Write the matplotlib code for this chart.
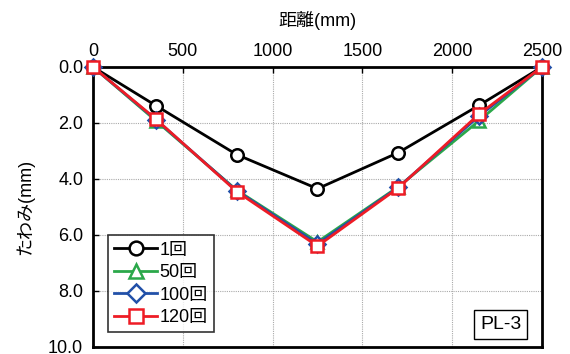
import matplotlib
matplotlib.use("Agg")
import matplotlib.pyplot as plt

# data
distance = [0, 350, 800, 1250, 1700, 2150, 2500]
defl_1 = [0.0, 1.38, 3.13, 4.35, 3.06, 1.37, 0.0]
defl_50 = [0.0, 1.92, 4.40, 6.25, 4.28, 1.92, 0.0]
defl_100 = [0.0, 1.88, 4.42, 6.32, 4.30, 1.75, 0.0]
defl_120 = [0.0, 1.86, 4.45, 6.40, 4.32, 1.68, 0.0]
labels = ["1回", "50回", "100回", "120回"]
x_ticks = [0, 500, 1000, 1500, 2000, 2500]
y_ticks = [0, 2, 4, 6, 8, 10]

plt.rcParams['font.family'] = ['Liberation Sans', 'Noto Sans CJK JP']
plt.rcParams['font.size'] = 13

fig = plt.figure(figsize=(5.7, 3.54), dpi=100)
ax = fig.add_axes([0.163, 0.02, 0.788, 0.791])

series = [
    (defl_1, labels[0], 'black', 'o'),
    (defl_50, labels[1], '#2BA84A', '^'),
    (defl_100, labels[2], '#2150A8', 'D'),
    (defl_120, labels[3], '#EE1C25', 's'),
]
for ys, lab, col, mk in series:
    ms = 8 if mk == 'D' else 9
    ax.plot(distance, ys, color=col, lw=2, marker=mk, markersize=ms,
            markerfacecolor='white', markeredgecolor=col, markeredgewidth=1.8,
            label=lab, clip_on=False, zorder=3)

ax.set_xlim(0, 2500)
ax.set_ylim(10, 0)
ax.set_xticks(x_ticks)
ax.set_yticks(y_ticks)
ax.set_yticklabels([f"{v:.1f}" for v in y_ticks])
ax.xaxis.tick_top()
ax.xaxis.set_label_position('top')
ax.tick_params(direction='in', length=4, width=1, pad=7, labelsize=13)
ax.tick_params(axis='x', pad=5)
ax.grid(True, color='#aaaaaa', linestyle=(0, (1, 1)), linewidth=0.8)
for sp in ax.spines.values():
    sp.set_linewidth(2)

ax.set_xlabel("距離(mm)", fontsize=13, labelpad=12)
ax.set_ylabel("たわみ(mm)", fontsize=13, labelpad=10)

leg = ax.legend(loc='lower left', bbox_to_anchor=(0.033, 0.052), fontsize=13,
                frameon=True, fancybox=False, edgecolor='black',
                handlelength=2.4, handletextpad=0.1, labelspacing=0.3,
                borderpad=0.35, borderaxespad=0, markerscale=1.1)
leg.get_frame().set_linewidth(1.2)

ax.text(0.908, 0.08, "PL-3", transform=ax.transAxes, ha='center', va='center',
        fontsize=14, bbox=dict(boxstyle='square,pad=0.3', fc='white',
                               ec='black', lw=1))

fig.savefig("out.png", dpi=100)
